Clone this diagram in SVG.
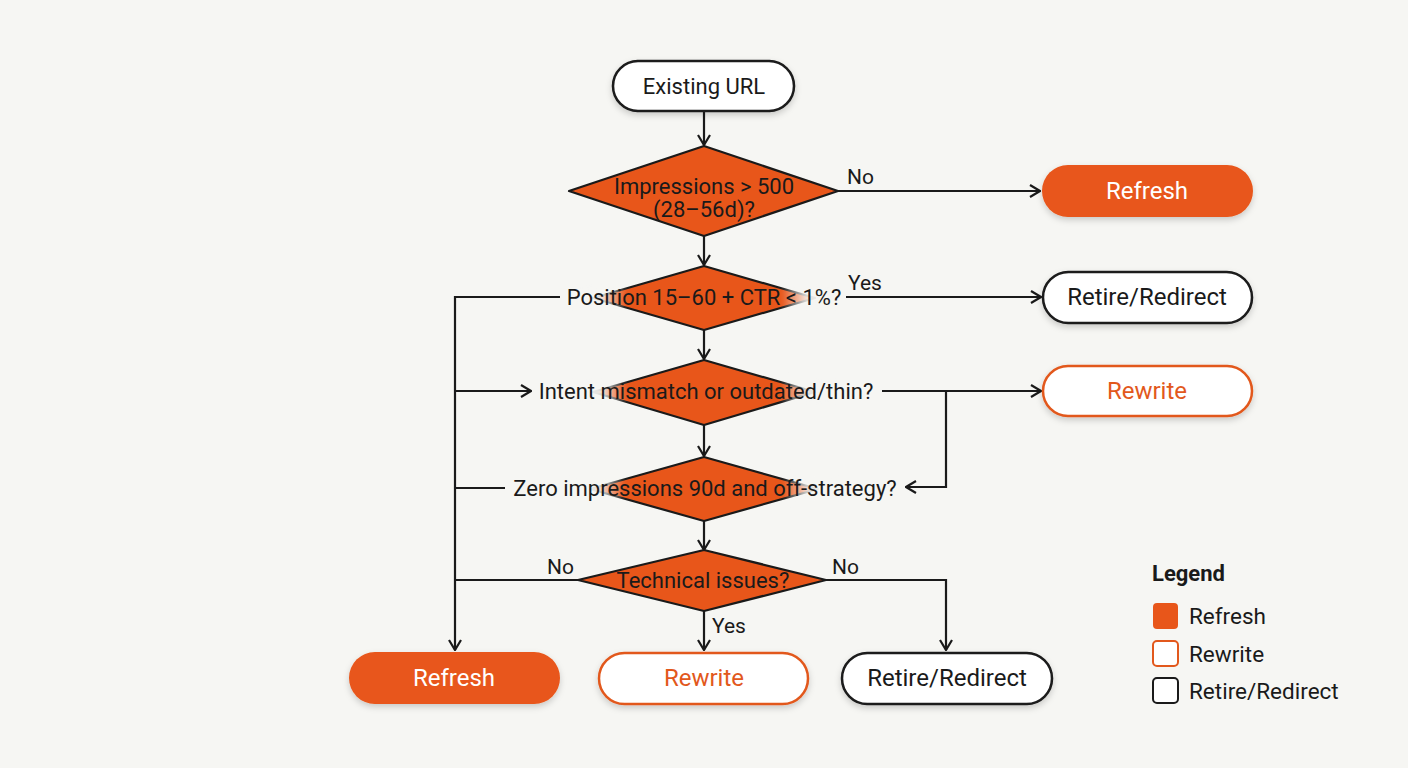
<svg xmlns="http://www.w3.org/2000/svg" width="1408" height="768" viewBox="0 0 1408 768">
<defs>
<style>
text{font-family:Roboto,"Liberation Sans",sans-serif;}
.t{font-size:22px;fill:#1a1a1a;text-anchor:middle;dominant-baseline:central;}
.tp{font-size:24px;fill:#1a1a1a;text-anchor:middle;dominant-baseline:central;}
.tw{font-size:24px;fill:#ffffff;text-anchor:middle;dominant-baseline:central;}
.to{font-size:24px;fill:#e2581c;text-anchor:middle;dominant-baseline:central;}
.lbl{font-size:21px;fill:#1a1a1a;}
.leg{font-size:22.5px;fill:#1a1a1a;dominant-baseline:central;}
.c{fill:none;stroke:#1a1a1a;stroke-width:2.2;}
.ca{fill:none;stroke:#1a1a1a;stroke-width:2.2;marker-end:url(#ah);}
.dia{fill:#e8561a;stroke:#1a1a1a;stroke-width:2.2;stroke-linejoin:round;}
.pf{fill:#e8561a;stroke:none;filter:url(#sh);}
.po{fill:#ffffff;stroke:#e2581c;stroke-width:2.5;filter:url(#sh);}
.pd{fill:#ffffff;stroke:#1a1a1a;stroke-width:2.5;filter:url(#sh);}
.fade{fill:url(#fg);filter:url(#bl);}
</style>
<marker id="ah" viewBox="0 0 12 14" markerWidth="12" markerHeight="14" refX="11" refY="7" orient="auto" markerUnits="userSpaceOnUse">
<path d="M1,1 L11,7 L1,13" fill="none" stroke="#1a1a1a" stroke-width="2.2"/>
</marker>
<filter id="sh" x="-20%" y="-30%" width="140%" height="170%">
<feDropShadow dx="0" dy="3" stdDeviation="3" flood-color="#000" flood-opacity="0.18"/>
</filter>
<filter id="bl" x="-10%" y="-50%" width="120%" height="200%">
<feGaussianBlur stdDeviation="2.5"/>
</filter>
<linearGradient id="fg" x1="0" y1="0" x2="1" y2="0">
<stop offset="0" stop-color="#f6f6f3" stop-opacity="1"/>
<stop offset="0.1" stop-color="#f6f6f3" stop-opacity="0.9"/>
<stop offset="0.2" stop-color="#f6f6f3" stop-opacity="0"/>
<stop offset="0.8" stop-color="#f6f6f3" stop-opacity="0"/>
<stop offset="0.9" stop-color="#f6f6f3" stop-opacity="0.9"/>
<stop offset="1" stop-color="#f6f6f3" stop-opacity="1"/>
</linearGradient>
</defs>
<rect width="1408" height="768" fill="#f6f6f3"/>

<g id="connectors">
<path class="ca" d="M704,111 V145"/>
<path class="ca" d="M838,191 H1040"/>
<path class="ca" d="M704,236 V265"/>
<path class="ca" d="M846,297 H1041"/>
<path class="ca" d="M704,330 V359"/>
<path class="ca" d="M882,391 H1041"/>
<path class="ca" d="M946,391 V487 H906"/>
<path class="ca" d="M704,425 V456"/>
<path class="ca" d="M704,521 V550"/>
<path class="ca" d="M560,297 H455 V650"/>
<path class="ca" d="M455,391 H531"/>
<path class="c" d="M505,488 H455"/>
<path class="c" d="M578,580 H455"/>
<path class="ca" d="M704,611 V650"/>
<path class="ca" d="M826,580 H946 V650"/>
<text class="lbl" x="847" y="184">No</text>
<text class="lbl" x="848" y="290">Yes</text>
<text class="lbl" x="547" y="574">No</text>
<text class="lbl" x="832" y="574">No</text>
<text class="lbl" x="712" y="633">Yes</text>
</g>

<g id="start">
<rect x="613" y="61" width="181" height="50" rx="25" fill="#ffffff" stroke="#1a1a1a" stroke-width="2.5" filter="url(#sh)"/>
<text class="t" x="704" y="86">Existing URL</text>
</g>

<g id="d1">
<polygon class="dia" points="704,146 838,191 704,236 569,191"/>
<text class="t" x="704" y="186">Impressions &gt; 500</text>
<text class="t" x="704" y="209">(28–56d)?</text>
</g>

<g id="d2">
<polygon class="dia" points="704,266 815,298 704,330 593,298"/>
<rect class="fade" x="575" y="284" width="258" height="27"/>
<text class="t" x="704" y="297">Position 15–60 + CTR &lt; 1%?</text>
</g>

<g id="d3">
<polygon class="dia" points="704,360 815,392 704,425 593,392"/>
<rect class="fade" x="575" y="378" width="258" height="27"/>
<text class="t" x="706" y="391">Intent mismatch or outdated/thin?</text>
</g>

<g id="d4">
<polygon class="dia" points="704,457 818,489 704,521 590,489"/>
<rect class="fade" x="572" y="475" width="264" height="27"/>
<text class="t" x="705" y="488">Zero impressions 90d and off-strategy?</text>
</g>

<g id="d5">
<polygon class="dia" points="704,550 826,580 704,611 578,580"/>
<text class="t" x="703" y="580">Technical issues?</text>
</g>

<g id="refresh-top">
<rect class="pf" x="1042" y="165" width="211" height="52" rx="26"/>
<text class="tw" x="1147" y="191">Refresh</text>
</g>

<g id="retire-top">
<rect class="pd" x="1043" y="272" width="209" height="51" rx="25.5"/>
<text class="tp" x="1147" y="297">Retire/Redirect</text>
</g>

<g id="rewrite-top">
<rect class="po" x="1043" y="366" width="209" height="50" rx="25"/>
<text class="to" x="1147" y="391">Rewrite</text>
</g>

<g id="refresh-bottom">
<rect class="pf" x="349" y="652" width="211" height="52" rx="26"/>
<text class="tw" x="454" y="678">Refresh</text>
</g>

<g id="rewrite-bottom">
<rect class="po" x="599" y="653" width="209" height="51" rx="25.5"/>
<text class="to" x="704" y="678">Rewrite</text>
</g>

<g id="retire-bottom">
<rect class="pd" x="842" y="653" width="210" height="51" rx="25.5"/>
<text class="tp" x="947" y="678">Retire/Redirect</text>
</g>

<g id="legend">
<text x="1152" y="581" font-size="22" font-weight="bold" fill="#1a1a1a">Legend</text>
<rect x="1153" y="603" width="25" height="26" rx="4" fill="#e8561a"/>
<text class="leg" x="1189" y="616">Refresh</text>
<rect x="1153" y="641" width="25" height="25" rx="4" fill="#ffffff" stroke="#e2581c" stroke-width="2"/>
<text class="leg" x="1189" y="654">Rewrite</text>
<rect x="1153" y="678" width="25" height="25" rx="4" fill="#ffffff" stroke="#1a1a1a" stroke-width="2"/>
<text class="leg" x="1189" y="691">Retire/Redirect</text>
</g>
</svg>
